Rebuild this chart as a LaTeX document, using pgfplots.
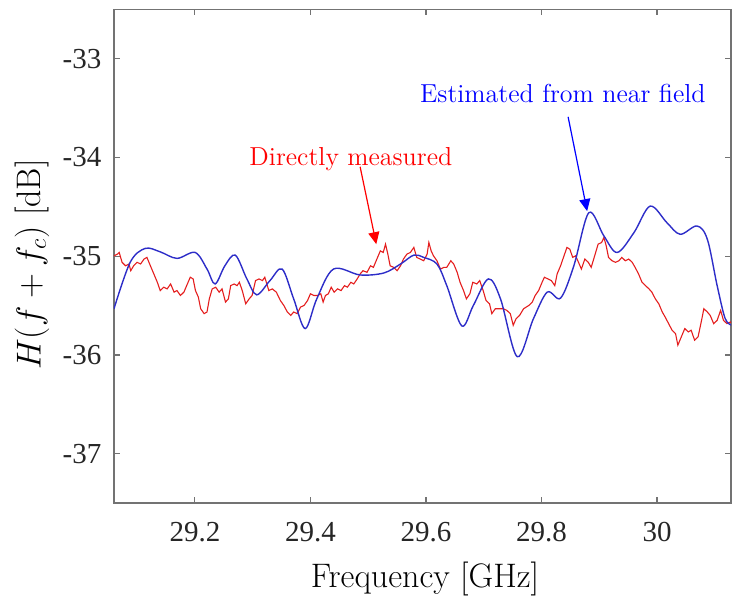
\documentclass[border=0pt]{standalone}
\usepackage{fontspec}
\usepackage{pgfplots}
\pgfplotsset{compat=1.18}
\usetikzlibrary{arrows.meta}
\newfontfamily\LSerif{Liberation Serif}[Ligatures=TeX]
\definecolor{curveblue}{RGB}{45,45,200}
\definecolor{curvered}{RGB}{228,30,30}
\begin{document}
\begin{tikzpicture}
\begin{axis}[
  at={(0,0)}, anchor=south west,
  scale only axis, width=308.5pt, height=246.8pt,
  xmin=29.06, xmax=30.128, ymin=-37.5, ymax=-32.5,
  xtick={29.2,29.4,29.6,29.8,30},
  ytick={-37,-36,-35,-34,-33},
  xticklabels={29.2,29.4,29.6,29.8,30},
  yticklabels={-37,-36,-35,-34,-33},
  tick align=inside, major tick length=3pt,
  axis line style={draw=black!55, line width=0.6pt},
  every tick/.style={draw=black!55, line width=0.6pt},
  tick label style={font=\LSerif\fontsize{14.5}{14.5}\selectfont, text=black!85},
  xticklabel style={inner sep=0pt, yshift=-9.2pt},
  yticklabel style={inner sep=0pt, xshift=-6.1pt},
  xlabel={Frequency [GHz]},
  ylabel={$H(f+f_c)$ [dB]},
  xlabel style={at={(axis description cs:0.504,-0.171)}, anchor=base, font=\fontsize{17}{17}\selectfont},
  ylabel style={at={(axis description cs:-0.119,0.483)}, anchor=base, font=\fontsize{17}{17}\selectfont},
  clip=true,
]
\addplot[curvered, line width=0.55pt] coordinates {
(29.060,-34.996) (29.066,-34.979) (29.069,-34.962) (29.074,-35.062) (29.080,-35.097)
(29.086,-35.079) (29.089,-35.147) (29.094,-35.097) (29.100,-35.062) (29.106,-35.079)
(29.112,-35.029) (29.117,-35.012) (29.123,-35.097) (29.129,-35.180) (29.135,-35.264)
(29.140,-35.348) (29.146,-35.314) (29.152,-35.331) (29.158,-35.281) (29.164,-35.364)
(29.169,-35.348) (29.175,-35.398) (29.181,-35.364) (29.187,-35.281) (29.192,-35.213)
(29.197,-35.230) (29.201,-35.348) (29.206,-35.414) (29.210,-35.532) (29.216,-35.582)
(29.221,-35.565) (29.225,-35.432) (29.230,-35.331) (29.236,-35.314) (29.242,-35.364)
(29.247,-35.331) (29.253,-35.465) (29.258,-35.432) (29.262,-35.298) (29.268,-35.281)
(29.273,-35.298) (29.277,-35.264) (29.282,-35.348) (29.288,-35.482) (29.294,-35.432)
(29.299,-35.398) (29.305,-35.247) (29.311,-35.230) (29.317,-35.247) (29.321,-35.213)
(29.328,-35.348) (29.334,-35.331) (29.341,-35.364) (29.348,-35.449) (29.354,-35.499)
(29.360,-35.565) (29.366,-35.600) (29.371,-35.565) (29.377,-35.582) (29.383,-35.515)
(29.389,-35.499) (29.395,-35.449) (29.400,-35.381) (29.406,-35.398) (29.412,-35.398)
(29.418,-35.381) (29.422,-35.465) (29.426,-35.398) (29.431,-35.381) (29.436,-35.314)
(29.441,-35.364) (29.447,-35.331) (29.453,-35.348) (29.459,-35.298) (29.464,-35.314)
(29.470,-35.264) (29.475,-35.281) (29.481,-35.230) (29.486,-35.180) (29.491,-35.147)
(29.498,-35.163) (29.504,-35.097) (29.509,-35.113) (29.515,-35.029) (29.521,-34.946)
(29.526,-34.962) (29.530,-34.878) (29.534,-34.979) (29.538,-35.097) (29.544,-35.113)
(29.550,-35.147) (29.556,-35.097) (29.561,-35.029) (29.567,-34.979) (29.573,-34.962)
(29.579,-34.911) (29.584,-35.012) (29.590,-35.029) (29.596,-35.046) (29.602,-34.979)
(29.605,-34.861) (29.609,-34.946) (29.613,-34.996) (29.619,-35.046) (29.625,-35.130)
(29.631,-35.113) (29.636,-35.113) (29.643,-35.046) (29.648,-35.079) (29.654,-35.163)
(29.659,-35.264) (29.665,-35.348) (29.670,-35.432) (29.676,-35.381) (29.681,-35.264)
(29.688,-35.281) (29.693,-35.247) (29.699,-35.348) (29.704,-35.449) (29.710,-35.482)
(29.714,-35.582) (29.720,-35.532) (29.727,-35.532) (29.734,-35.532) (29.740,-35.549)
(29.746,-35.582) (29.751,-35.700) (29.756,-35.633) (29.762,-35.600) (29.769,-35.532)
(29.778,-35.499) (29.784,-35.465) (29.789,-35.398) (29.795,-35.348) (29.801,-35.264)
(29.805,-35.213) (29.811,-35.230) (29.817,-35.247) (29.823,-35.298) (29.827,-35.180)
(29.833,-35.097) (29.838,-35.012) (29.844,-34.911) (29.849,-34.929) (29.854,-35.012)
(29.859,-34.996) (29.864,-35.062) (29.869,-35.130) (29.875,-35.029) (29.881,-35.062)
(29.886,-35.113) (29.892,-34.996) (29.898,-34.878) (29.904,-34.861) (29.908,-34.811)
(29.912,-34.895) (29.916,-35.012) (29.922,-35.046) (29.928,-35.062) (29.934,-35.046)
(29.939,-35.012) (29.945,-35.046) (29.951,-35.029) (29.957,-35.062) (29.962,-35.113)
(29.968,-35.180) (29.974,-35.264) (29.980,-35.298) (29.986,-35.331) (29.991,-35.364)
(29.997,-35.432) (30.003,-35.482) (30.009,-35.565) (30.014,-35.616) (30.020,-35.683)
(30.026,-35.750) (30.032,-35.784) (30.036,-35.901) (30.042,-35.817) (30.048,-35.733)
(30.054,-35.767) (30.059,-35.750) (30.065,-35.851) (30.071,-35.817) (30.077,-35.650)
(30.081,-35.532) (30.087,-35.565) (30.092,-35.600) (30.098,-35.683) (30.104,-35.650)
(30.110,-35.549) (30.115,-35.650) (30.121,-35.683) (30.127,-35.666) (30.130,-35.683)
};
\addplot[curveblue, line width=0.7pt, smooth, tension=0.55] coordinates {
(29.060,-35.532) (29.088,-35.062) (29.114,-34.921) (29.140,-34.956) (29.169,-35.022)
(29.2005,-34.962) (29.221,-35.130) (29.235,-35.281) (29.252,-35.096) (29.270,-34.989)
(29.290,-35.230) (29.307,-35.391) (29.330,-35.247) (29.351,-35.130) (29.371,-35.432)
(29.391,-35.733) (29.411,-35.432) (29.440,-35.130) (29.486,-35.190) (29.527,-35.170)
(29.556,-35.079) (29.579,-34.989) (29.596,-35.012) (29.619,-35.079) (29.636,-35.298)
(29.662,-35.706) (29.682,-35.499) (29.708,-35.230) (29.729,-35.432) (29.758,-36.018)
(29.786,-35.633) (29.810,-35.364) (29.833,-35.424) (29.856,-35.096) (29.882,-34.559)
(29.908,-34.795) (29.931,-34.962) (29.960,-34.761) (29.988,-34.493) (30.017,-34.660)
(30.040,-34.778) (30.069,-34.694) (30.087,-34.828) (30.104,-35.298) (30.118,-35.633)
(30.130,-35.700)
};
\node[anchor=base, text=red, font=\fontsize{13}{13}\selectfont] at (axis cs:29.470,-34.080) {Directly measured};
\node[anchor=base, text=blue, font=\fontsize{13}{13}\selectfont] at (axis cs:29.837,-33.447) {Estimated from near field};
\draw[red, line width=0.6pt, -{Triangle[length=6pt,width=5.5pt]}] (axis cs:29.486,-34.094) -- (axis cs:29.514,-34.878);
\draw[blue, line width=0.6pt, -{Triangle[length=6pt,width=5.5pt]}] (axis cs:29.846,-33.588) -- (axis cs:29.879,-34.543);
\end{axis}
\pgfresetboundingbox
\useasboundingbox (-57pt,-48.5pt) rectangle (309pt,251.5pt);
\end{tikzpicture}
\end{document}
